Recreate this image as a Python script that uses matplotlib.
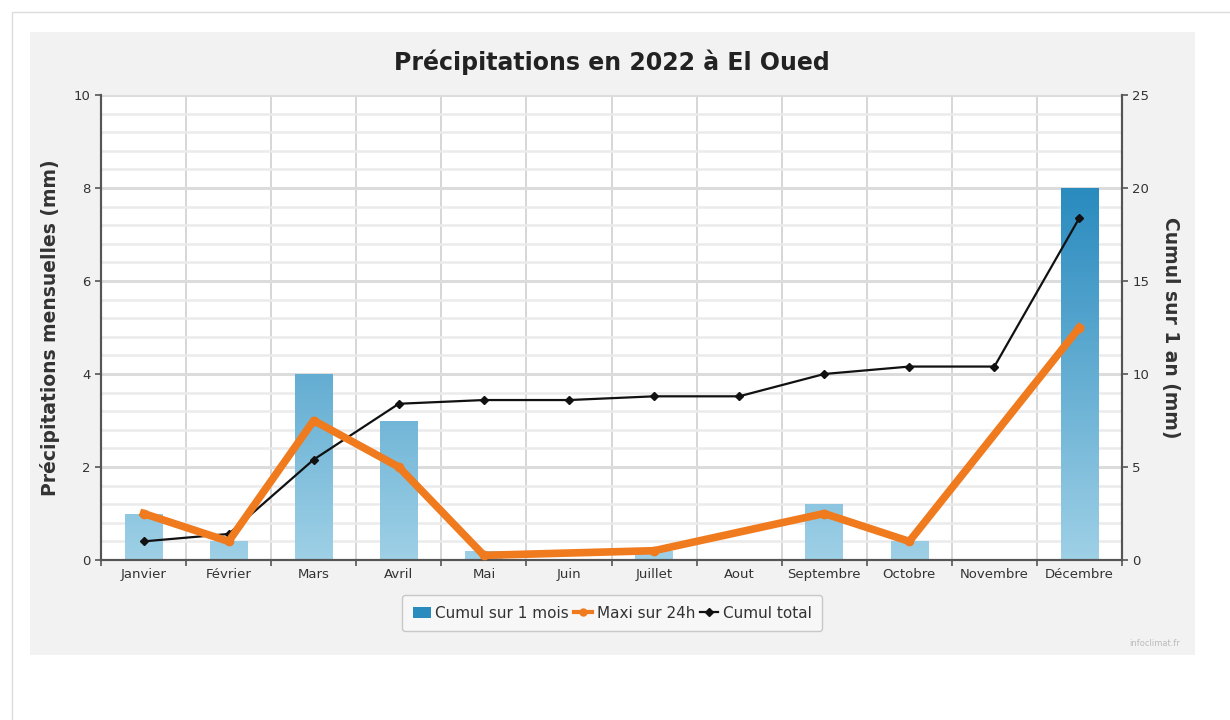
"""
Précipitations mensuelles 2022 à El Oued (style infoclimat).
"""

import matplotlib

matplotlib.use("Agg")

import matplotlib.pyplot as plt
import numpy as np
from matplotlib.colors import LinearSegmentedColormap
from matplotlib.lines import Line2D
from matplotlib.patches import Patch, Rectangle

MONTHS = ["Janvier", "Février", "Mars", "Avril", "Mai", "Juin", "Juillet",
          "Aout", "Septembre", "Octobre", "Novembre", "Décembre"]
MONTHLY = [1.0, 0.4, 4.0, 3.0, 0.2, 0.0, 0.2, 0.0, 1.2, 0.4, 0.0, 8.0]
MAX_24H = [1.0, 0.4, 3.0, 2.0, 0.1, np.nan, 0.2, np.nan, 1.0, 0.4, np.nan, 5.0]
CUMUL = [1.0, 1.4, 5.4, 8.4, 8.6, 8.6, 8.8, 8.8, 10.0, 10.4, 10.4, 18.4]
LEFT_TICKS = [0, 2, 4, 6, 8, 10]
RIGHT_TICKS = [0, 5, 10, 15, 20, 25]

BAR_CMAP = LinearSegmentedColormap.from_list("bars", ["#9ed0e6", "#2a8bbf"])
ORANGE = "#f07a1e"
TEXT = "#333333"
AXIS = "#555555"


def main() -> None:
    fig = plt.figure(figsize=(12.3, 7.2), dpi=100)
    fig.patch.set_facecolor("white")

    # card border + grey panel behind the chart
    fig.add_artist(Rectangle((12 / 1230, -0.1), 1.2, 1 - 12 / 720 + 0.1,
                             transform=fig.transFigure, facecolor="white",
                             edgecolor="#dcdcdc", linewidth=1.0, zorder=-3))
    fig.add_artist(Rectangle((30 / 1230, 1 - 655 / 720), 1165 / 1230, 623 / 720,
                             transform=fig.transFigure, facecolor="#f2f2f2",
                             edgecolor="none", zorder=-2))

    ax = fig.add_axes([101 / 1230, 1 - 560 / 720, 1021 / 1230, 465 / 720])
    ax2 = ax.twinx()
    ax.set_facecolor("white")

    x = np.arange(len(MONTHS))
    width = 0.44

    # gradient bars
    for xi, h in zip(x, MONTHLY):
        if h <= 0:
            continue
        grad = np.linspace(0, h, 100).reshape(-1, 1)
        im = ax.imshow(grad, cmap=BAR_CMAP, vmin=0, vmax=8, origin="lower",
                       extent=[xi - width / 2, xi + width / 2, 0, h],
                       aspect="auto", zorder=2)
        rect = Rectangle((xi - width / 2, 0), width, h, facecolor="none",
                         edgecolor="none", zorder=2)
        ax.add_patch(rect)
        im.set_clip_path(rect)

    # cumulative total on right axis
    ax2.plot(x, CUMUL, color="#111111", linewidth=1.6, marker="D",
             markersize=4, zorder=3)

    # max 24h on left axis, drawn above the black line; gaps are joined
    max24 = np.array(MAX_24H)
    ok = ~np.isnan(max24)
    ax2.plot(x[ok], max24[ok], color=ORANGE, linewidth=5.5, marker="o",
             markersize=6, transform=ax.transData, zorder=4)

    ax.set_xlim(-0.5, 11.5)
    ax.set_ylim(0, 10)
    ax2.set_ylim(0, 25)

    # grid
    ax.set_xticks(np.arange(-0.5, 12, 1))
    ax.set_xticklabels([])
    ax.set_xticks(x, minor=True)
    ax.set_xticklabels(MONTHS, minor=True, fontsize=9.5, color=TEXT)
    ax.tick_params(axis="x", which="minor", length=0, pad=6)
    ax.tick_params(axis="x", which="major", length=4, width=1.2, color=AXIS)
    ax.grid(axis="x", which="major", color="#cfcfcf", linewidth=1.2, zorder=0)

    ax.set_yticks(LEFT_TICKS)
    ax.set_yticks(np.arange(0, 10.01, 0.4), minor=True)
    ax.grid(axis="y", which="minor", color="#ebebeb", linewidth=1.8, zorder=0)
    ax.grid(axis="y", which="major", color="#dcdcdc", linewidth=2.2, zorder=0)
    ax.tick_params(axis="y", which="minor", length=0)
    ax.tick_params(axis="y", which="major", length=4, width=1.2, color=AXIS,
                   labelsize=9.5, labelcolor=TEXT)
    ax.set_axisbelow(True)

    ax2.set_yticks(RIGHT_TICKS)
    ax2.tick_params(axis="y", length=4, width=1.2, color=AXIS, labelsize=9.5,
                    labelcolor=TEXT)

    for a in (ax, ax2):
        a.spines["top"].set_visible(False)
        for side in ("left", "right", "bottom"):
            a.spines[side].set_color(AXIS)
            a.spines[side].set_linewidth(1.5)

    ax.set_ylabel("Précipitations mensuelles (mm)", fontsize=13.5,
                  fontweight="bold", color=TEXT, labelpad=10)
    ax2.set_ylabel("Cumul sur 1 an (mm)", fontsize=13.5, fontweight="bold",
                   color=TEXT, rotation=-90, labelpad=22)

    fig.text(612 / 1230, 1 - 62 / 720, "Précipitations en 2022 à El Oued",
             ha="center", va="center", fontsize=17, fontweight="bold",
             color="#222222")

    handles = [
        Patch(facecolor="#2a8bbf", edgecolor="none"),
        Line2D([], [], color=ORANGE, linewidth=3, marker="o", markersize=5),
        Line2D([], [], color="#111111", linewidth=1.6, marker="D", markersize=4),
    ]
    leg = fig.legend(handles, ["Cumul sur 1 mois", "Maxi sur 24h", "Cumul total"],
                     loc="center", bbox_to_anchor=(612 / 1230, 1 - 613 / 720),
                     ncol=3, fontsize=11, frameon=True, fancybox=True,
                     handlelength=1.2, handletextpad=0.3, columnspacing=0.3,
                     borderpad=0.7, labelcolor=TEXT)
    leg.get_frame().set_edgecolor("#bdbdbd")
    leg.get_frame().set_facecolor("#f9f9f9")

    fig.text(1180 / 1230, 1 - 643 / 720, "infoclimat.fr", ha="right",
             va="center", fontsize=6, color="#bbbbbb")

    fig.savefig("out.png", dpi=100)
    plt.close(fig)


if __name__ == "__main__":
    main()
